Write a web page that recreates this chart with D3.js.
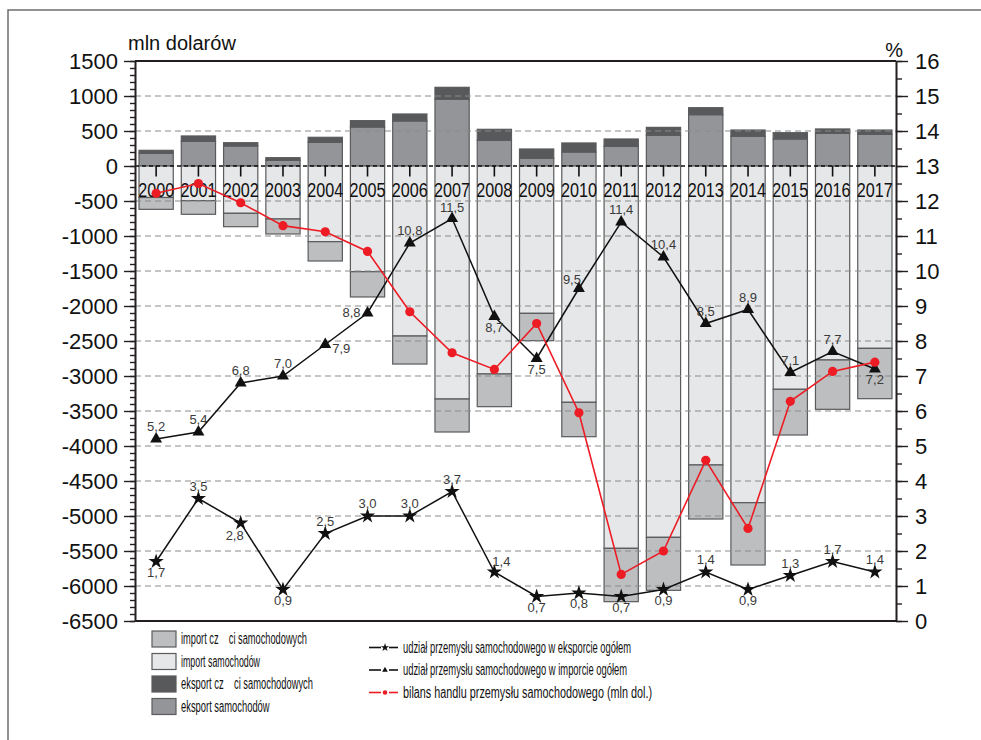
<!DOCTYPE html>
<html>
<head>
<meta charset="utf-8">
<script src="https://cdn.jsdelivr.net/npm/d3@7"></script>
<style>
  html, body { margin: 0; padding: 0; background: #fff; }
  svg { display: block; }
  text { font-family: "Liberation Sans", Arial, Helvetica, sans-serif; }
</style>
</head>
<body>
<svg id="chart" width="981" height="740"></svg>
<script>
// Handel przemysłu samochodowego, 2000–2017
const years = ["2000","2001","2002","2003","2004","2005","2006","2007","2008",
               "2009","2010","2011","2012","2013","2014","2015","2016","2017"];

// mln dolarów
const exportCars  = [181, 352, 286, 81, 338, 557, 643, 952, 367, 110, 200, 281, 438, 733, 424, 386, 467, 452];
const exportParts = [43, 77, 47, 38, 72, 91, 100, 172, 157, 133, 129, 105, 114, 100, 90, 90, 62, 62];
const importCars  = [450, 495, 676, 757, 1081, 1510, 2429, 3329, 2971, 2105, 3376, 5462, 5305, 4271, 4810, 3190, 2771, 2605];
const importParts = [169, 195, 191, 214, 276, 361, 400, 471, 467, 390, 491, 762, 757, 772, 890, 653, 705, 719];
const balance     = [-390, -250, -525, -852, -940, -1220, -2082, -2668, -2906, -2250, -3525, -5834, -5500, -4205, -5178, -3362, -2935, -2802];

// %
const importShare = [5.2, 5.4, 6.8, 7.0, 7.9, 8.8, 10.8, 11.5, 8.7, 7.5, 9.5, 11.4, 10.4, 8.5, 8.9, 7.1, 7.7, 7.2];
const exportShare = [1.7, 3.5, 2.8, 0.9, 2.5, 3.0, 3.0, 3.7, 1.4, 0.7, 0.8, 0.7, 0.9, 1.4, 0.9, 1.3, 1.7, 1.4];

// label placement around each marker
const importLabelSide = ["t","t","t","t","br","l","t","tn","b","b","tl","t","t","t","t","t","t","b"];
const exportLabelSide = ["b","t","bl","b","t","t","t","t","tr","b","b","b","b","t","b","t","t","t"];

const leftTicks  = d3.range(-6500, 1501, 500);
const rightTicks = d3.range(0, 17, 1);

const colors = {
  exportCars: "#939598",
  exportParts: "#58595b",
  importCars: "#e6e7e8",
  importParts: "#bcbec0"
};

const svg = d3.select("#chart");
const FONT = "'Liberation Sans', Arial, Helvetica, sans-serif";

// outer frame
svg.append("path")
  .attr("d", "M8,740V10H981")
  .attr("fill", "none").attr("stroke", "#6d6e71").attr("stroke-width", 1.5);

const x = d3.scaleBand().domain(years).range([135, 896]).paddingInner(0.19).paddingOuter(0.095);
const y = d3.scaleLinear().domain([-6500, 1500]).range([621, 61]);
const yR = d3.scaleLinear().domain([0, 16]).range([621, 61]);

// stacked bars
const table = years.map((yr, i) => ({
  year: yr,
  exportCars: exportCars[i],
  exportParts: exportParts[i],
  importCars: -importCars[i],
  importParts: -importParts[i]
}));
const keys = ["exportCars", "exportParts", "importCars", "importParts"];
const stacked = d3.stack().keys(keys).offset(d3.stackOffsetDiverging)(table);

const barG = svg.append("g");
stacked.forEach(layer => {
  barG.append("g")
    .attr("fill", colors[layer.key])
    .selectAll("rect")
    .data(layer)
    .join("rect")
    .attr("x", d => x(d.data.year))
    .attr("width", x.bandwidth())
    .attr("y", d => y(Math.max(d[0], d[1])))
    .attr("height", d => Math.abs(y(d[0]) - y(d[1])))
    .attr("stroke", "#5a5b5d")
    .attr("stroke-width", 1.2);
});

// dashed grid
svg.append("g").selectAll("line")
  .data(leftTicks.filter(v => v !== 0 && v > -6500 && v < 1500))
  .join("line")
  .attr("x1", 135).attr("x2", 896)
  .attr("y1", d => y(d)).attr("y2", d => y(d))
  .attr("stroke", "#8a8a8a").attr("stroke-width", 1)
  .attr("stroke-dasharray", "6,4");

// zero line
svg.append("line")
  .attr("x1", 135).attr("x2", 896)
  .attr("y1", y(0)).attr("y2", y(0))
  .attr("stroke", "#111").attr("stroke-width", 1.6)
  .attr("stroke-dasharray", "4,3");

// year ticks and labels
const yearG = svg.append("g");
yearG.selectAll("line").data(years).join("line")
  .attr("x1", d => x(d) + x.bandwidth() / 2).attr("x2", d => x(d) + x.bandwidth() / 2)
  .attr("y1", y(0)).attr("y2", y(0) + 10.5)
  .attr("stroke", "#111").attr("stroke-width", 1.6);
yearG.selectAll("text").data(years).join("text")
  .attr("x", d => x(d) + x.bandwidth() / 2 - 18)
  .attr("y", 197)
  .attr("font-size", 20.5)
  .attr("textLength", 36)
  .attr("lengthAdjust", "spacingAndGlyphs")
  .attr("fill", "#111")
  .text(d => d);

// frame top and bottom
svg.append("line").attr("x1", 135).attr("x2", 896).attr("y1", 61).attr("y2", 61)
  .attr("stroke", "#231f20").attr("stroke-width", 2);
svg.append("line").attr("x1", 135).attr("x2", 896).attr("y1", 621).attr("y2", 621)
  .attr("stroke", "#231f20").attr("stroke-width", 2);

// left axis
const leftMinor = svg.append("g").attr("transform", "translate(135,0)")
  .call(d3.axisLeft(y).tickValues(d3.range(-6500, 1501, 100)).tickSize(5).tickSizeOuter(0).tickFormat(""));
leftMinor.select(".domain").remove();
const leftAxis = svg.append("g").attr("transform", "translate(135,0)")
  .call(d3.axisLeft(y).tickValues(leftTicks).tickSize(11).tickSizeOuter(0).tickPadding(6)
        .tickFormat(d => String(d)));
[leftMinor, leftAxis].forEach(g => g.selectAll(".tick line").attr("stroke", "#231f20").attr("stroke-width", 1.4));
leftAxis.select(".domain").attr("stroke", "#231f20").attr("stroke-width", 2);
leftAxis.selectAll(".tick text").attr("font-size", 22).attr("font-family", FONT).attr("fill", "#111");

// right axis
const rightMinor = svg.append("g").attr("transform", "translate(896,0)")
  .call(d3.axisRight(yR).tickValues(d3.range(0, 16.01, 0.5)).tickSize(6).tickSizeOuter(0).tickFormat(""));
rightMinor.select(".domain").remove();
const rightAxis = svg.append("g").attr("transform", "translate(896,0)")
  .call(d3.axisRight(yR).tickValues(rightTicks).tickSize(12).tickSizeOuter(0).tickPadding(7)
        .tickFormat(d => String(d)));
[rightMinor, rightAxis].forEach(g => g.selectAll(".tick line").attr("stroke", "#231f20").attr("stroke-width", 1.4));
rightAxis.select(".domain").attr("stroke", "#231f20").attr("stroke-width", 2);
rightAxis.selectAll(".tick text").attr("font-size", 22).attr("font-family", FONT).attr("fill", "#111");

// axis titles
svg.append("text").attr("x", 128).attr("y", 50).attr("font-size", 20).attr("fill", "#111").text("mln dolarów");
svg.append("text").attr("x", 903).attr("y", 57).attr("font-size", 20).attr("text-anchor", "end").attr("fill", "#111").text("%");

// lines
const cx = i => x(years[i]) + x.bandwidth() / 2;

const lineR = d3.line().x((d, i) => cx(i)).y(d => yR(d));
const lineL = d3.line().x((d, i) => cx(i)).y(d => y(d));

svg.append("path").datum(importShare).attr("d", lineR)
  .attr("fill", "none").attr("stroke", "#111").attr("stroke-width", 1.5);
svg.append("path").datum(exportShare).attr("d", lineR)
  .attr("fill", "none").attr("stroke", "#111").attr("stroke-width", 1.5);
svg.append("path").datum(balance).attr("d", lineL)
  .attr("fill", "none").attr("stroke", "#ed1c24").attr("stroke-width", 1.6);

// markers
const tri = d3.symbol(d3.symbolTriangle, 62);
const star = d3.symbol(d3.symbolStar, 72);

svg.append("g").selectAll("path").data(importShare).join("path")
  .attr("d", tri)
  .attr("transform", (d, i) => `translate(${cx(i)},${yR(d)})`)
  .attr("fill", "#111");
svg.append("g").selectAll("path").data(exportShare).join("path")
  .attr("d", star)
  .attr("transform", (d, i) => `translate(${cx(i)},${yR(d)})`)
  .attr("fill", "#111");
svg.append("g").selectAll("circle").data(balance).join("circle")
  .attr("cx", (d, i) => cx(i)).attr("cy", d => y(d)).attr("r", 4.6)
  .attr("fill", "#ed1c24");

// value labels
const offsets = {
  t:  [0, -8],  tn: [0, -6.5], b: [0, 15],
  l:  [-16, 4], br: [16, 8],
  tl: [-7, -5], tr: [7, -6],
  bl: [-6, 17]
};
const fmt = v => v.toFixed(1).replace(".", ",");
function valueLabels(values, sides) {
  svg.append("g").selectAll("text").data(values).join("text")
    .attr("x", (d, i) => cx(i) + offsets[sides[i]][0])
    .attr("y", (d, i) => yR(d) + offsets[sides[i]][1])
    .attr("text-anchor", "middle")
    .attr("font-size", 13)
    .attr("fill", "#3a3a3a")
    .text(d => fmt(d));
}
valueLabels(importShare, importLabelSide);
valueLabels(exportShare, exportLabelSide);

// legend: bar series
const legendBars = [
  { label: "import cz    ci samochodowych", color: colors.importParts, w: 126 },
  { label: "import samochodów", color: colors.importCars, w: 79 },
  { label: "eksport cz    ci samochodowych", color: colors.exportParts, w: 132 },
  { label: "eksport samochodów", color: colors.exportCars, w: 88.6 }
];
const lb = svg.append("g");
legendBars.forEach((d, i) => {
  const top = 631 + i * 22.5;
  lb.append("rect").attr("x", 152).attr("y", top).attr("width", 24).attr("height", 16)
    .attr("fill", d.color).attr("stroke", "#5a5b5d").attr("stroke-width", 1.2);
  lb.append("text").attr("x", 181).attr("y", top + 13)
    .attr("font-size", 16).attr("fill", "#111")
    .style("white-space", "pre")
    .attr("textLength", d.w).attr("lengthAdjust", "spacingAndGlyphs")
    .text(d.label);
});

// legend: line series
const legendLines = [
  { label: "udział przemysłu samochodowego w eksporcie ogółem", color: "#111", mark: "star", w: 228 },
  { label: "udział przemysłu samochodowego w imporcie ogółem", color: "#111", mark: "tri", w: 224 },
  { label: "bilans handlu przemysłu samochodowego (mln dol.)", color: "#ed1c24", mark: "dot", w: 249 }
];
const ll = svg.append("g");
legendLines.forEach((d, i) => {
  const cy = 647.5 + i * 22.5;
  ll.append("line").attr("x1", 369).attr("x2", 381).attr("y1", cy).attr("y2", cy)
    .attr("stroke", d.color).attr("stroke-width", 1.6);
  ll.append("line").attr("x1", 389).attr("x2", 398).attr("y1", cy).attr("y2", cy)
    .attr("stroke", d.color).attr("stroke-width", 1.6);
  if (d.mark === "dot") {
    ll.append("circle").attr("cx", 385).attr("cy", cy).attr("r", 2.3).attr("fill", d.color);
  } else {
    ll.append("path")
      .attr("d", d.mark === "star" ? d3.symbol(d3.symbolStar, 22)() : d3.symbol(d3.symbolTriangle, 14)())
      .attr("transform", `translate(385,${cy})`)
      .attr("fill", d.color);
  }
  ll.append("text").attr("x", 403).attr("y", cy + 5)
    .attr("font-size", 16).attr("fill", "#111")
    .attr("textLength", d.w).attr("lengthAdjust", "spacingAndGlyphs")
    .text(d.label);
});
</script>
</body>
</html>
